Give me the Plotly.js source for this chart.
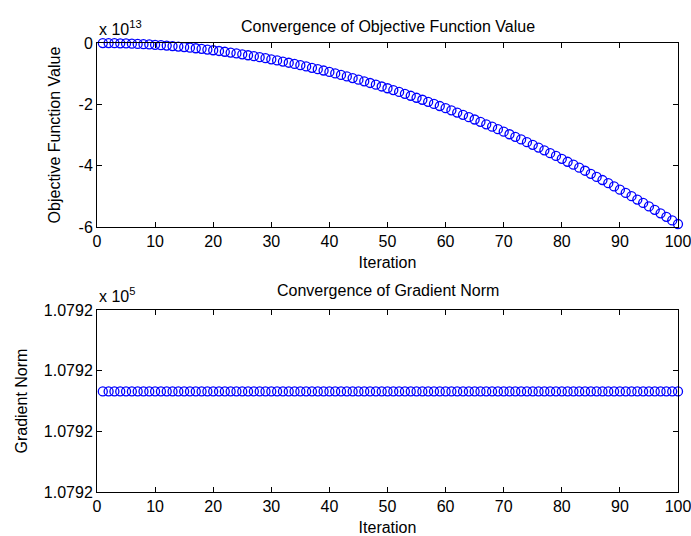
<!DOCTYPE html>
<html>
<head>
<meta charset="utf-8">
<script src="https://cdn.plot.ly/plotly-3.0.1.min.js"></script>
<style>
html,body{margin:0;padding:0;background:#fff;}
#chart{width:691px;height:536px;}
</style>
</head>
<body>
<div id="chart"></div>
<script>
// Iterations 1..100
var iterations = [
  1,2,3,4,5,6,7,8,9,10,
  11,12,13,14,15,16,17,18,19,20,
  21,22,23,24,25,26,27,28,29,30,
  31,32,33,34,35,36,37,38,39,40,
  41,42,43,44,45,46,47,48,49,50,
  51,52,53,54,55,56,57,58,59,60,
  61,62,63,64,65,66,67,68,69,70,
  71,72,73,74,75,76,77,78,79,80,
  81,82,83,84,85,86,87,88,89,90,
  91,92,93,94,95,96,97,98,99,100
];

// Objective function value, in units of 1e13
var objectiveMantissa = [
  -0.001,-0.002,-0.005,-0.009,-0.015,-0.021,-0.029,-0.038,-0.048,-0.059,
  -0.071,-0.085,-0.100,-0.116,-0.133,-0.151,-0.171,-0.191,-0.213,-0.236,
  -0.260,-0.286,-0.312,-0.340,-0.369,-0.399,-0.430,-0.463,-0.496,-0.531,
  -0.567,-0.604,-0.643,-0.682,-0.723,-0.765,-0.808,-0.852,-0.897,-0.944,
  -0.992,-1.041,-1.091,-1.142,-1.195,-1.248,-1.303,-1.359,-1.417,-1.475,
  -1.535,-1.595,-1.657,-1.720,-1.785,-1.850,-1.917,-1.985,-2.054,-2.124,
  -2.195,-2.268,-2.342,-2.417,-2.493,-2.570,-2.649,-2.728,-2.809,-2.891,
  -2.974,-3.059,-3.144,-3.231,-3.319,-3.408,-3.498,-3.590,-3.682,-3.776,
  -3.871,-3.967,-4.065,-4.163,-4.263,-4.364,-4.466,-4.569,-4.673,-4.779,
  -4.886,-4.994,-5.103,-5.213,-5.325,-5.437,-5.551,-5.666,-5.783,-5.900
];
var objectiveScale = 1e13;

// Gradient norm (constant)
var gradientNorm = [
  107920.166,107920.166,107920.166,107920.166,107920.166,107920.166,107920.166,107920.166,107920.166,107920.166,
  107920.166,107920.166,107920.166,107920.166,107920.166,107920.166,107920.166,107920.166,107920.166,107920.166,
  107920.166,107920.166,107920.166,107920.166,107920.166,107920.166,107920.166,107920.166,107920.166,107920.166,
  107920.166,107920.166,107920.166,107920.166,107920.166,107920.166,107920.166,107920.166,107920.166,107920.166,
  107920.166,107920.166,107920.166,107920.166,107920.166,107920.166,107920.166,107920.166,107920.166,107920.166,
  107920.166,107920.166,107920.166,107920.166,107920.166,107920.166,107920.166,107920.166,107920.166,107920.166,
  107920.166,107920.166,107920.166,107920.166,107920.166,107920.166,107920.166,107920.166,107920.166,107920.166,
  107920.166,107920.166,107920.166,107920.166,107920.166,107920.166,107920.166,107920.166,107920.166,107920.166,
  107920.166,107920.166,107920.166,107920.166,107920.166,107920.166,107920.166,107920.166,107920.166,107920.166,
  107920.166,107920.166,107920.166,107920.166,107920.166,107920.166,107920.166,107920.166,107920.166,107920.166
];

// Tick labels
var xTickVals = [0,10,20,30,40,50,60,70,80,90,100];
var xTickText = ["0","10","20","30","40","50","60","70","80","90","100"];
var objTickMantissa = [-6,-4,-2,0];
var objTickText = ["-6","-4","-2","0"];
var gradTickVals = [107920.0,107920.1,107920.2,107920.3];
var gradTickText = ["1.0792","1.0792","1.0792","1.0792"];

var objectiveValues = objectiveMantissa.map(function(v){return v*objectiveScale;});
var objTickVals = objTickMantissa.map(function(v){return v*objectiveScale;});

var FONT = "Liberation Sans, Arial, Helvetica, sans-serif";
var markerStyle = {symbol:"circle-open", size:9, color:"#0000ff", line:{width:1.3, color:"#0000ff"}};

var traces = [
  {x: iterations, y: objectiveValues, type:"scatter", mode:"markers", marker: markerStyle,
   xaxis:"x", yaxis:"y", cliponaxis:false, hoverinfo:"x+y"},
  {x: iterations, y: gradientNorm, type:"scatter", mode:"markers", marker: markerStyle,
   xaxis:"x2", yaxis:"y2", cliponaxis:false, hoverinfo:"x+y"}
];

function axisBase(){
  return {
    showline:true, linecolor:"#000", linewidth:1, mirror:"ticks",
    ticks:"inside", ticklen:5, tickcolor:"#000", tickwidth:1,
    showgrid:false, zeroline:false, ticklabeloverflow:"allow",
    tickfont:{family:FONT, size:16, color:"#000"}
  };
}

var xa = axisBase();
Object.assign(xa, {domain:[0,1], range:[0,100], tickmode:"array", tickvals:xTickVals, ticktext:xTickText,
  anchor:"y", title:{text:"Iteration", font:{family:FONT,size:16,color:"#000"}, standoff:7}});
var ya = axisBase();
Object.assign(ya, {domain:[0.590,1], range:[objTickVals[0], objTickVals[3]], tickmode:"array",
  tickvals:objTickVals, ticktext:objTickText, anchor:"x",
  title:{text:"Objective Function Value", font:{family:FONT,size:16,color:"#000"}, standoff:13}});
var xa2 = axisBase();
Object.assign(xa2, {domain:[0,1], range:[0,100], tickmode:"array", tickvals:xTickVals, ticktext:xTickText,
  anchor:"y2", title:{text:"Iteration", font:{family:FONT,size:16,color:"#000"}, standoff:7}});
var ya2 = axisBase();
Object.assign(ya2, {domain:[0,0.405], range:[gradTickVals[0], gradTickVals[3]], tickmode:"array",
  tickvals:gradTickVals, ticktext:gradTickText, anchor:"x2",
  title:{text:"Gradient Norm", font:{family:FONT,size:16,color:"#000"}, standoff:12}});

var layout = {
  width:691, height:536,
  margin:{l:97, r:13, t:43, b:44, pad:0},
  paper_bgcolor:"#fff", plot_bgcolor:"#fff",
  showlegend:false,
  font:{family:FONT, size:16, color:"#000"},
  xaxis:xa, yaxis:ya, xaxis2:xa2, yaxis2:ya2,
  annotations:[
    {text:"Convergence of Objective Function Value", xref:"paper", yref:"paper", x:0.5, y:1,
     xanchor:"center", yanchor:"bottom", yshift:6, showarrow:false, font:{family:FONT,size:16,color:"#000"}},
    {text:"Convergence of Gradient Norm", xref:"paper", yref:"paper", x:0.5, y:0.405,
     xanchor:"center", yanchor:"bottom", yshift:9, showarrow:false, font:{family:FONT,size:16,color:"#000"}},
    {text:"x 10<sup>13</sup>", xref:"paper", yref:"paper", x:0, y:1,
     xanchor:"left", yanchor:"bottom", yshift:3, showarrow:false, font:{family:FONT,size:16,color:"#000"}},
    {text:"x 10<sup>5</sup>", xref:"paper", yref:"paper", x:0, y:0.405,
     xanchor:"left", yanchor:"bottom", yshift:3, showarrow:false, font:{family:FONT,size:16,color:"#000"}}
  ]
};

Plotly.newPlot("chart", traces, layout, {displayModeBar:false, staticPlot:true});
</script>
</body>
</html>
